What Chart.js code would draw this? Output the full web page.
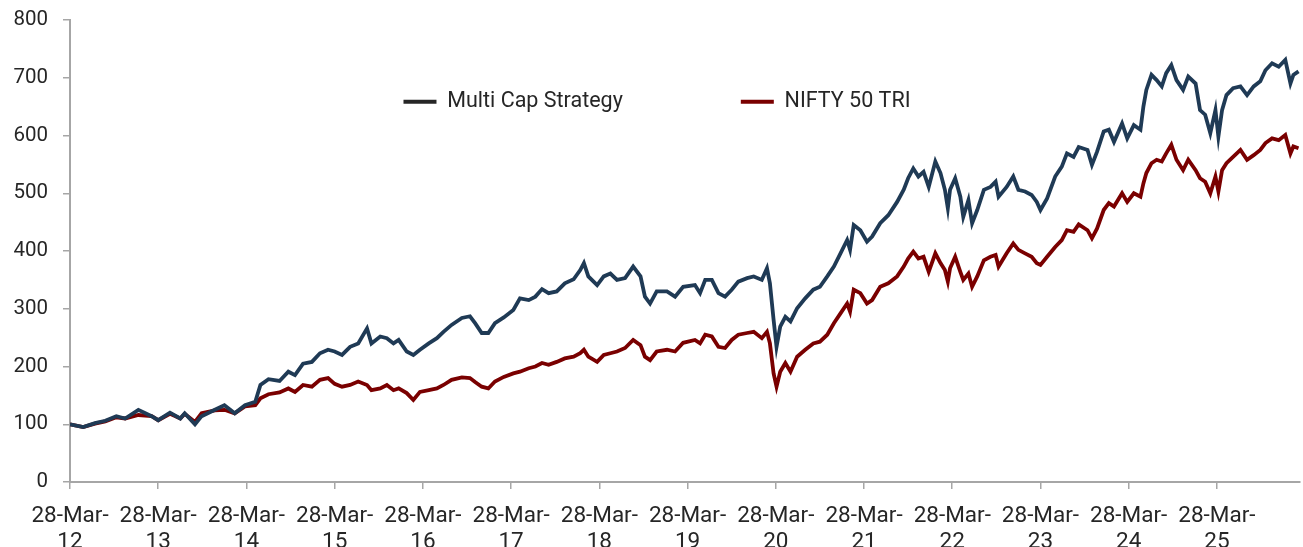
<!DOCTYPE html>
<html>
<head>
<meta charset="utf-8">
<script src="https://cdn.jsdelivr.net/npm/chart.js@4.4.1/dist/chart.umd.min.js"></script>
<style>
  html, body { margin: 0; padding: 0; background: #fff; }
  #wrap { width: 1303px; height: 547px; }
</style>
</head>
<body>
<div id="wrap"><canvas id="perfChart"></canvas></div>
<script>
// months elapsed since 28-Mar-12
const months = [
  0, 1.8, 3.4, 4.8, 6.3, 7.5, 9.3, 11.1, 12, 13.6,
  15, 15.6, 17, 17.9, 19.7, 21, 22.4, 23.8, 25.2, 25.9,
  27, 28.5, 29.7, 30.6, 31.7, 32.9, 34, 35.1, 36, 37,
  38.1, 39.2, 40.4, 41, 42.2, 43.1, 44, 44.7, 45.8, 46.7,
  47.6, 48.8, 49.9, 50.8, 51.9, 53.3, 54.4, 55.1, 56, 56.9,
  57.8, 59, 60.3, 61.2, 62.4, 63.3, 64.2, 65.1, 66.2, 67.3,
  68.5, 69.4, 69.9, 70.5, 71.7, 72.6, 73.5, 74.4, 75.5, 76.6,
  77.6, 78.2, 78.9, 79.8, 81.2, 82.3, 83.4, 85, 85.7, 86.4,
  87.3, 88.2, 89.1, 90, 90.9, 92.1, 93, 94.1, 94.8, 95.2,
  95.7, 96.1, 96.6, 97.3, 98, 98.9, 100, 101.1, 102, 103,
  103.9, 104.8, 105.7, 106.1, 106.6, 107.5, 108.4, 109.1, 110.2, 111.3,
  112.5, 113.4, 114, 114.7, 115.4, 116.1, 116.8, 117.7, 118.4, 119,
  119.4, 119.7, 120.4, 121.1, 121.5, 122.2, 122.7, 123.4, 124.3, 125.2,
  125.9, 126.3, 127.4, 128.3, 129, 129.9, 130.8, 131.5, 132, 132.9,
  134, 134.9, 135.6, 136.5, 137.2, 138.4, 139, 139.7, 140.6, 141.3,
  142, 143.1, 143.8, 144.7, 145.6, 146, 146.4, 147.1, 147.8, 148.5,
  149.1, 149.8, 150.5, 151.4, 152.1, 153.1, 153.7, 154.4, 155.1, 155.8,
  156.2, 156.7, 157.3, 158.2, 159.2, 160.1, 161, 161.9, 162.6, 163.5,
  164.4, 165.3, 166, 166.4, 167.1
];

const multiCap = [
  100, 95, 102, 106, 114, 110, 125, 114, 107, 120,
  110, 119, 100, 114, 125, 133, 119, 133, 139, 168,
  178, 175, 191, 185, 205, 208, 223, 229, 226, 220,
  234, 240, 266, 240, 252, 249, 240, 246, 226, 220,
  229, 240, 249, 260, 272, 284, 287, 275, 258, 258,
  275, 285, 298, 318, 315, 321, 334, 327, 330, 344,
  351, 367, 379, 356, 341, 356, 361, 350, 353, 373,
  356, 321, 309, 330, 330, 321, 338, 341, 327, 350,
  350, 327, 321, 333, 347, 353, 356, 350, 370, 344,
  281, 234, 269, 286, 278, 301, 318, 333, 338, 356,
  373, 396, 419, 402, 445, 436, 416, 425, 448, 462,
  485, 506, 526, 543, 529, 537, 511, 555, 535, 506,
  474, 506, 526, 494, 459, 488, 448, 471, 506, 511,
  520, 494, 511, 529, 506, 503, 497, 485, 471, 491,
  529, 546, 569, 563, 580, 575, 549, 572, 607, 610,
  589, 621, 595, 618, 610, 650, 679, 705, 696, 685,
  708, 722, 696, 679, 702, 690, 644, 636, 604, 644,
  598, 644, 670, 682, 685, 670, 685, 694, 713, 725,
  719, 731, 690, 705, 711
];

const nifty50 = [
  100, 95, 101, 105, 112, 110, 116, 114, 107, 118,
  110, 118, 104, 119, 124, 125, 119, 131, 133, 145,
  152, 155, 162, 156, 168, 165, 177, 180, 170, 165,
  168, 174, 168, 159, 162, 168, 159, 162, 154, 142,
  156, 159, 162, 168, 177, 181, 180, 173, 165, 162,
  174, 182, 188, 191, 197, 200, 206, 203, 208, 214,
  217, 223, 229, 217, 208, 220, 223, 226, 232, 246,
  237, 217, 211, 226, 229, 226, 241, 246, 240, 255,
  252, 234, 232, 246, 255, 258, 260, 249, 260, 240,
  188, 165, 191, 206, 191, 217, 229, 240, 243, 255,
  275, 292, 309, 295, 333, 327, 309, 315, 338, 344,
  356, 373, 387, 399, 387, 390, 364, 396, 379, 367,
  347, 370, 390, 364, 350, 361, 338, 356, 384, 390,
  393, 373, 396, 413, 402, 396, 390, 379, 376, 390,
  407, 419, 436, 433, 446, 436, 422, 439, 471, 483,
  477, 500, 485, 500, 494, 517, 535, 552, 558, 555,
  569, 584, 558, 540, 558, 540, 526, 520, 500, 529,
  503, 540, 552, 563, 575, 558, 566, 575, 587, 595,
  592, 601, 569, 581, 578
];

const tickMonths = [0, 12, 24, 36, 48, 60, 72, 84, 96, 108, 120, 132, 144, 156];
const tickLabels = [
  ['28-Mar-', '12'], ['28-Mar-', '13'], ['28-Mar-', '14'], ['28-Mar-', '15'],
  ['28-Mar-', '16'], ['28-Mar-', '17'], ['28-Mar-', '18'], ['28-Mar-', '19'],
  ['28-Mar-', '20'], ['28-Mar-', '21'], ['28-Mar-', '22'], ['28-Mar-', '23'],
  ['28-Mar-', '24'], ['28-Mar-', '25']
];
const seriesNames = ['Multi Cap Strategy', 'NIFTY 50 TRI'];
const lineColors = ['#1f3a55', '#7a0000'];
const legendColors = ['#262626', '#7a0000'];

const axisGrey = '#a6a6a6';
const textGrey = '#262626';

function toPoints(vals) {
  return vals.map((v, i) => ({ x: months[i], y: v }));
}

// legend is drawn inside the plot, so it takes no room in the layout
const legendInPlot = {
  id: 'legendInPlot',
  beforeLayout(chart) {
    const lg = chart.legend;
    if (lg && !lg._flat) {
      const fit = lg.fit;
      lg.fit = function () { fit.call(this); this.height = 0; };
      lg._flat = true;
    }
  },
  afterLayout(chart) {
    const lg = chart.legend;
    lg.left = 14;
    lg.top = -27;
    lg.bottom = 200;
    lg.height = lg.bottom - lg.top;
  }
};

new Chart(document.getElementById('perfChart'), {
  type: 'line',
  data: {
    datasets: [
      {
        label: seriesNames[0],
        data: toPoints(multiCap),
        borderColor: lineColors[0],
        backgroundColor: legendColors[0],
        borderWidth: 3.8,
        pointRadius: 0,
        tension: 0
      },
      {
        label: seriesNames[1],
        data: toPoints(nifty50),
        borderColor: lineColors[1],
        backgroundColor: legendColors[1],
        borderWidth: 3.8,
        pointRadius: 0,
        tension: 0
      }
    ]
  },
  options: {
    responsive: true,
    maintainAspectRatio: false,
    animation: false,
    layout: { padding: { left: 0, right: 3, top: 20, bottom: 0 } },
    plugins: {
      tooltip: { enabled: false },
      legend: {
        position: 'top',
        align: 'center',
        labels: {
          font: { family: 'Roboto', size: 21.5 },
          color: textGrey,
          boxWidth: 33,
          boxHeight: 4,
          padding: 118,
          generateLabels(chart) {
            const items = Chart.defaults.plugins.legend.labels.generateLabels(chart);
            items.forEach((it, i) => {
              it.fillStyle = legendColors[i];
              it.lineWidth = 0;
            });
            return items;
          }
        }
      }
    },
    scales: {
      x: {
        type: 'linear',
        min: 0,
        max: 167.3,
        afterBuildTicks(scale) {
          scale.ticks = tickMonths.map(v => ({ value: v }));
        },
        afterFit(scale) {
          scale.height = 65;
          scale.paddingLeft = 0;
          scale.paddingRight = 0;
        },
        ticks: {
          autoSkip: false,
          maxRotation: 0,
          padding: 14,
          color: textGrey,
          font: { family: 'Roboto', size: 22.5, lineHeight: 1.17 },
          callback(value) {
            const i = tickMonths.indexOf(value);
            return i >= 0 ? tickLabels[i] : '';
          }
        },
        grid: {
          drawOnChartArea: false,
          drawTicks: true,
          tickLength: 7,
          color: axisGrey,
          lineWidth: 1.5
        },
        border: { display: true, color: axisGrey, width: 2 }
      },
      y: {
        min: 0,
        max: 800,
        afterFit(scale) {
          scale.width = 70;
          scale.paddingTop = 0;
          scale.paddingBottom = 0;
        },
        ticks: {
          stepSize: 100,
          padding: 15,
          color: textGrey,
          font: { family: 'Roboto', size: 20.5 }
        },
        grid: {
          drawOnChartArea: false,
          drawTicks: true,
          tickLength: 7,
          color: axisGrey,
          lineWidth: 1.5
        },
        border: { display: true, color: axisGrey, width: 2 }
      }
    }
  },
  plugins: [legendInPlot]
});
</script>
</body>
</html>
